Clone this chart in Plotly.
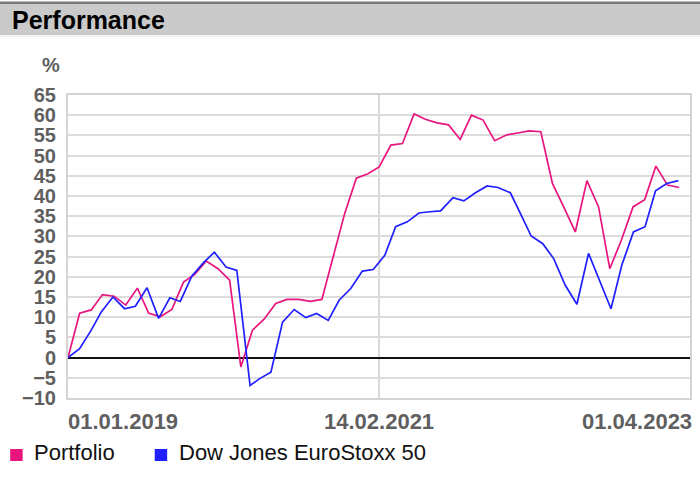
import plotly.graph_objects as go

# ---------------- data ----------------
portfolio_dates = [
    "2019-01-01", "2019-01-30", "2019-02-28", "2019-03-28", "2019-04-26", "2019-05-25",
    "2019-06-23", "2019-07-21", "2019-08-19", "2019-09-17", "2019-10-16", "2019-11-13",
    "2019-12-12", "2020-01-10", "2020-02-08", "2020-03-07", "2020-04-05", "2020-05-04",
    "2020-06-02", "2020-06-30", "2020-07-29", "2020-08-27", "2020-09-25", "2020-10-23",
    "2020-11-21", "2020-12-20", "2021-01-18", "2021-02-15", "2021-03-16", "2021-04-14",
    "2021-05-13", "2021-06-10", "2021-07-09", "2021-08-07", "2021-09-05", "2021-10-03",
    "2021-11-01", "2021-11-30", "2021-12-29", "2022-01-26", "2022-02-24", "2022-03-25",
    "2022-04-23", "2022-05-21", "2022-06-19", "2022-07-18", "2022-08-16", "2022-09-13",
    "2022-10-12", "2022-11-10", "2022-12-09", "2023-01-06", "2023-02-04", "2023-03-05",
]
portfolio_values = [
    0, 11.0, 11.8, 15.6, 15.2, 13.0, 17.2, 11.0, 10.1, 11.9, 18.7, 20.6,
    23.9, 22.0, 19.2, -2.3, 6.8, 9.5, 13.4, 14.4, 14.4, 13.9, 14.4, 24.9,
    35.7, 44.4, 45.5, 47.2, 52.6, 53.0, 60.3, 59.0, 58.1, 57.6, 54.0, 60.0,
    58.8, 53.7, 55.1, 55.6, 56.1, 55.9, 43.1, 37.3, 31.1, 43.8, 37.3, 22.0,
    29.1, 37.3, 39.1, 47.4, 42.7, 42.1,
]

index_dates = [
    "2019-01-01", "2019-01-30", "2019-02-28", "2019-03-25", "2019-04-23", "2019-05-22",
    "2019-06-18", "2019-07-17", "2019-08-15", "2019-09-12", "2019-10-08", "2019-11-06",
    "2019-12-05", "2020-01-01", "2020-01-30", "2020-02-26", "2020-03-30", "2020-04-23",
    "2020-05-21", "2020-06-19", "2020-07-18", "2020-08-16", "2020-09-12", "2020-10-11",
    "2020-11-07", "2020-12-06", "2021-01-04", "2021-01-31", "2021-03-01", "2021-03-28",
    "2021-04-26", "2021-05-25", "2021-06-21", "2021-07-18", "2021-08-18", "2021-09-14",
    "2021-10-13", "2021-11-11", "2021-12-08", "2022-01-08", "2022-02-02", "2022-03-01",
    "2022-03-30", "2022-04-26", "2022-05-25", "2022-06-23", "2022-07-22", "2022-08-18",
    "2022-09-16", "2022-10-13", "2022-11-11", "2022-12-10", "2023-01-05", "2023-02-02",
    "2023-03-03",
]
index_values = [
    0, 2.2, 6.8, 11.3, 15.0, 12.1, 12.7, 17.3, 9.7, 14.8, 13.9, 20.2,
    23.5, 26.1, 22.4, 21.6, -6.9, -5.2, -3.6, 8.8, 11.9, 9.9, 10.9, 9.2,
    14.2, 17.1, 21.4, 21.8, 25.3, 32.4, 33.6, 35.8, 36.1, 36.3, 39.6, 38.8,
    40.8, 42.5, 42.1, 40.8, 35.7, 30.1, 28.2, 24.5, 17.9, 13.2, 25.8, 19.2,
    12.1, 22.9, 31.1, 32.4, 41.3, 43.1, 43.8,
]

series_names = ["Portfolio", "Dow Jones EuroStoxx 50"]
x_tick_dates = ["2019-01-01", "2021-02-14", "2023-04-01"]
x_tick_labels = ["01.01.2019", "14.02.2021", "01.04.2023"]
y_tick_values = list(range(-10, 70, 5))

# ---------------- styling ----------------
W, H = 700, 479
ML, MR, MT, MB = 68, 8, 95, 81
PW, PH = W - ML - MR, H - MT - MB
PINK = "#e8157f"
BLUE = "#1f1fff"
FONT = "Liberation Sans, Arial, sans-serif"
TICK_COLOR = "#5f5f5f"


def px_x(px):
    return (px - ML) / PW


def px_y(py):
    return (H - MB - py) / PH


fig = go.Figure()
fig.add_trace(go.Scatter(x=portfolio_dates, y=portfolio_values, mode="lines",
                         name=series_names[0], line=dict(color=PINK, width=1.7),
                         showlegend=False))
fig.add_trace(go.Scatter(x=index_dates, y=index_values, mode="lines",
                         name=series_names[1], line=dict(color=BLUE, width=1.7),
                         showlegend=False))

shapes = [
    # header bar
    dict(type="rect", xref="paper", yref="paper", x0=px_x(-5), x1=px_x(W + 5),
         y0=px_y(35), y1=px_y(4), fillcolor="#cacaca", line=dict(width=0), layer="below"),
    dict(type="rect", xref="paper", yref="paper", x0=px_x(-5), x1=px_x(W + 5),
         y0=px_y(4), y1=px_y(1.5), fillcolor="#7a7a7a", line=dict(width=0), layer="below"),
    dict(type="line", xref="paper", yref="paper", x0=px_x(-5), x1=px_x(W + 5),
         y0=px_y(36), y1=px_y(36), line=dict(color="#e6e6e6", width=1)),
    # legend swatches
    dict(type="rect", xref="paper", yref="paper", x0=px_x(10), x1=px_x(22.5),
         y0=px_y(461), y1=px_y(449), fillcolor=PINK, line=dict(width=0)),
    dict(type="rect", xref="paper", yref="paper", x0=px_x(155), x1=px_x(167.5),
         y0=px_y(461), y1=px_y(449), fillcolor=BLUE, line=dict(width=0)),
]

annotations = [
    dict(text="%", xref="paper", yref="paper", x=px_x(51), y=px_y(65),
         xanchor="center", yanchor="middle", showarrow=False,
         font=dict(family=FONT, size=20, color=TICK_COLOR, weight="bold")),
    dict(text=series_names[0], xref="paper", yref="paper", x=px_x(32), y=px_y(452),
         xanchor="left", yanchor="middle", showarrow=False,
         font=dict(family=FONT, size=22, color="#111111")),
    dict(text=series_names[1], xref="paper", yref="paper", x=px_x(177), y=px_y(452),
         xanchor="left", yanchor="middle", showarrow=False,
         font=dict(family=FONT, size=22, color="#111111")),
]
anchors = ["left", "center", "right"]
shifts = [-2, 0, 4]
for d, lab, a, s in zip(x_tick_dates, x_tick_labels, anchors, shifts):
    annotations.append(dict(text=lab, xref="x", yref="paper", x=d, y=px_y(421),
                            xanchor=a, yanchor="middle", xshift=s, showarrow=False,
                            font=dict(family=FONT, size=22, color=TICK_COLOR, weight="bold")))

fig.update_layout(
    width=W, height=H,
    margin=dict(l=ML, r=MR, t=MT, b=MB, pad=0),
    paper_bgcolor="white", plot_bgcolor="white",
    title=dict(text="<b>Performance</b>", x=12 / W, xanchor="left", xref="container",
               y=1 - 20 / H, yanchor="middle", yref="container",
               font=dict(family=FONT, size=25, color="#000000")),
    shapes=shapes,
    annotations=annotations,
    showlegend=False,
    xaxis=dict(type="date", range=[x_tick_dates[0], x_tick_dates[-1]],
               tickvals=x_tick_dates, showticklabels=False, ticks="",
               showgrid=True, gridcolor="#d9d9d9", gridwidth=2,
               showline=True, linecolor="#d4d4d4", linewidth=2, mirror=True,
               zeroline=False, fixedrange=True),
    yaxis=dict(range=[-10, 65], tickvals=y_tick_values, ticks="",
               ticklabelstandoff=6,
               tickfont=dict(family=FONT, size=20, color=TICK_COLOR, weight="bold"),
               showgrid=True, gridcolor="#dcdcdc", gridwidth=2,
               showline=True, linecolor="#d4d4d4", linewidth=2, mirror=True,
               zeroline=True, zerolinecolor="#111111", zerolinewidth=1.6,
               fixedrange=True),
)

fig.write_html("out.html",
               config={"displayModeBar": False},
               post_script="document.body.style.margin='0';document.body.style.overflow='hidden';")
